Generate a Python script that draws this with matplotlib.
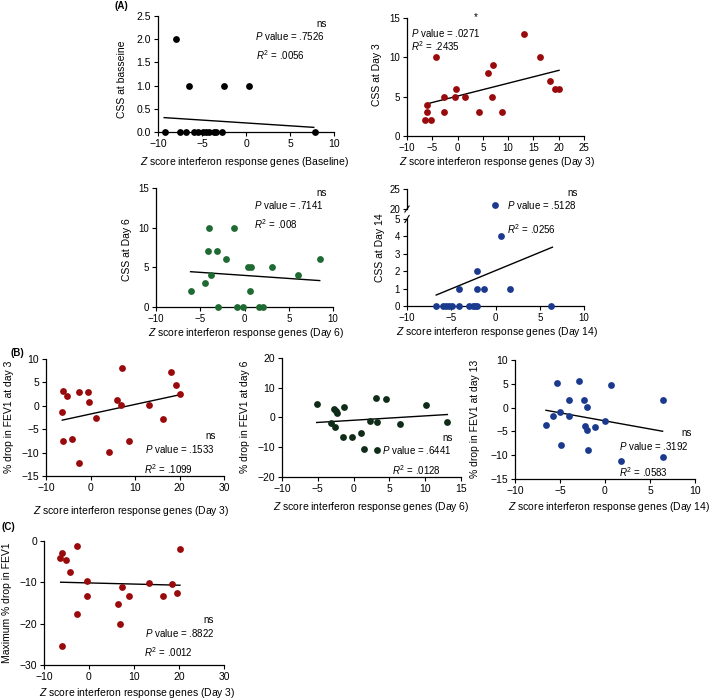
import matplotlib.pyplot as plt

plt.rcParams['font.family'] = 'Liberation Sans'
plt.rcParams['mathtext.fontset'] = 'custom'
plt.rcParams['mathtext.rm'] = 'Liberation Sans'
plt.rcParams['mathtext.it'] = 'Liberation Sans:italic'
plt.rcParams['font.size'] = 7
plt.rcParams['axes.linewidth'] = 0.9

W, H = 709, 700

black = '#000000'
red = '#990a0c'
green = '#1e6a32'
dkgreen = '#0f2c18'
blue = '#1b3a8e'

# (A) CSS vs Z score
a1_x = [-7.92, -6.5, -2.45, 0.38, -9.25, -7.47, -6.87, -5.9, -5.5, -4.83, -4.5, -4.26, -3.6, -3.4, -2.7, 7.85]
a1_y = [2, 1, 1, 1, 0, 0, 0, 0, 0, 0, 0, 0, 0, 0, 0, 0]
a1_fit_x = [-9.3, 7.7]
a1_fit_y = [0.31, 0.10]

a2_x = [-6.5, -5.2, -6.04, -6.04, -4.2, -2.6, -2.6, -0.57, -0.24, 1.4, 4.3, 6.0, 6.9, 7.07, 8.8, 13.1, 16.3, 18.3, 19.3, 20.06]
a2_y = [2, 2, 3, 4, 10, 5, 3, 5, 6, 5, 3, 8, 5, 9, 3, 13, 10, 7, 6, 6]
a2_fit_x = [-6.04, 20.06]
a2_fit_y = [4.09, 8.35]

a3_x = [-6.09, -4.5, -4.06, -4.14, -3.16, -3.8, -2.14, -3.0, -1.2, -0.9, -0.15, 0.41, 0.71, 0.6, 1.65, 2.1, 3.16, 6.05, 8.5]
a3_y = [2, 3, 10, 7, 7, 4, 6, 0, 10, 0, 0, 5, 5, 2, 0, 0, 5, 4, 6]
a3_fit_x = [-6.09, 8.5]
a3_fit_y = [4.45, 3.33]

a4_x = [-0.1, 0.58, -2.04, -4.1, -2.04, -1.26, 1.63, -6.7, -5.98, -5.57, -5.27, -4.97, -4.1, -3.02, -2.5, -2.27, -2.04, 6.32]
a4_y = [21, 4, 2, 1, 1, 1, 1, 0, 0, 0, 0, 0, 0, 0, 0, 0, 0, 0]
a4_fit_x = [-6.7, 6.43]
a4_fit_y = [0.63, 3.38]

# (B) % drop in FEV1 vs Z score
b1_x = [-6.26, -5.2, -2.6, -0.5, 7.1, 18.05, 19.2, -6.49, -6.12, -4.25, -2.6, -0.37, 1.34, 4.25, 5.97, 6.87, 8.73, 13.06, 16.2, 20.0]
b1_y = [3.1, 2.07, 2.86, 3.0, 8.1, 7.2, 4.4, -1.35, -7.54, -7.18, -12.2, 0.71, -2.7, -9.96, 1.28, 0.21, -7.47, 0.21, -2.9, 2.49]
b1_fit_x = [-6.34, 20.0]
b1_fit_y = [-3.06, 2.35]

b2_x = [-5.16, -2.7, -2.47, -2.28, -1.3, -3.16, -2.56, -1.49, -0.19, 1.02, 1.4, 2.23, 3.07, 3.26, 3.26, 4.56, 6.47, 10.05, 13.1]
b2_y = [4.47, 3.0, 2.35, 1.45, 3.58, -2.0, -3.24, -6.7, -6.7, -5.25, -10.5, -1.34, 6.48, -1.56, -10.8, 6.26, -2.35, 4.25, -1.56]
b2_fit_x = [-5.16, 13.1]
b2_fit_y = [-1.68, 1.0]

b3_x = [-6.56, -5.81, -5.04, -4.89, -4.0, -3.96, -2.33, -2.04, -2.22, -1.96, -1.89, -1.15, 0.0, 1.74, 6.4, 6.4, -5.37, -2.86, 0.63]
b3_y = [-3.57, -1.68, -0.91, -7.76, 1.61, -1.82, 1.68, 0.14, -3.92, -4.62, -8.88, -3.99, -2.87, -11.3, 1.6, -10.3, 5.16, 5.51, 4.7]
b3_fit_x = [-6.56, 6.4]
b3_fit_y = [-0.56, -4.97]

# (C) maximum % drop in FEV1
c_x = [-6.47, -6.1, -5.2, -4.24, -2.68, -0.51, -0.36, 7.23, 8.86, 13.3, 16.4, 18.4, 19.5, 20.2, 6.47, -2.6, 6.92, -6.03]
c_y = [-4.0, -2.95, -4.55, -7.46, -1.33, -9.56, -13.4, -11.2, -13.4, -10.2, -13.4, -10.3, -12.6, -1.9, -15.2, -17.6, -20.0, -25.3]
c_fit_x = [-6.3, 20.2]
c_fit_y = [-9.97, -10.7]

fig = plt.figure(figsize=(W / 100, H / 100), dpi=100)


def box(l, t, r, b):
    return [l / W, 1 - b / H, (r - l) / W, (b - t) / H]


def ftext(x, y, s, **kw):
    kw.setdefault('va', 'center')
    fig.text(x / W, 1 - y / H, s, **kw)


def panel(rect, x, y, fx, fy, color, xlim, xticks, ylim, yticks, ls=7):
    ax = fig.add_axes(box(*rect))
    ax.scatter(x, y, s=24, color=color, linewidths=0, clip_on=False, zorder=3)
    ax.plot(fx, fy, color='black', lw=1)
    ax.set_xlim(xlim)
    ax.set_ylim(ylim)
    ax.set_xticks(xticks)
    ax.set_yticks(yticks)
    ax.spines[['top', 'right']].set_visible(False)
    ax.tick_params(direction='out', length=3, width=0.8, labelsize=ls, pad=2)
    return ax


ax = panel((158, 16, 334, 132), a1_x, a1_y, a1_fit_x, a1_fit_y, black,
           (-10, 10), [-10, -5, 0, 5, 10], (0, 2.5), [0, 0.5, 1, 1.5, 2, 2.5], ls=7.5)
ax.yaxis.set_major_formatter('{x:.1f}')

panel((407, 18, 584, 136), a2_x, a2_y, a2_fit_x, a2_fit_y, red,
      (-10, 25), [-10, -5, 0, 5, 10, 15, 20, 25], (0, 15), [0, 5, 10, 15])

panel((156, 188, 333, 307), a3_x, a3_y, a3_fit_x, a3_fit_y, green,
      (-10, 10), [-10, -5, 0, 5, 10], (0, 15), [0, 5, 10, 15])

# broken y axis for day 14
ax = panel((407, 219, 584, 306), a4_x, a4_y, a4_fit_x, a4_fit_y, blue,
           (-10, 10), [-10, -5, 0, 5, 10], (0, 5), [0, 1, 2, 3, 4, 5])
axt = fig.add_axes(box(407, 189, 584, 209))
axt.scatter(a4_x, a4_y, s=24, color=blue, linewidths=0, zorder=3)
axt.set_xlim(-10, 10)
axt.set_ylim(20, 25)
axt.set_yticks([20, 25])
axt.set_xticks([])
axt.spines[['top', 'right', 'bottom']].set_visible(False)
axt.tick_params(direction='out', length=3, width=0.8, labelsize=7, pad=2)
# small break marks on the y axis
for a, yy in ((axt, 0.0), (ax, 1.0)):
    a.plot([-0.012, 0.012], [yy - 0.04, yy + 0.04] if a is ax else [yy - 0.15, yy + 0.15],
           transform=a.transAxes, color='black', lw=0.8, clip_on=False)

panel((46, 359, 224, 476), b1_x, b1_y, b1_fit_x, b1_fit_y, red,
      (-10, 30), [-10, 0, 10, 20, 30], (-15, 10), [-15, -10, -5, 0, 5, 10], ls=7.5)
panel((282, 358, 461, 477), b2_x, b2_y, b2_fit_x, b2_fit_y, dkgreen,
      (-10, 15), [-10, -5, 0, 5, 10, 15], (-20, 20), [-20, -10, 0, 10, 20], ls=7.5)
panel((515, 360, 695, 479), b3_x, b3_y, b3_fit_x, b3_fit_y, blue,
      (-10, 10), [-10, -5, 0, 5, 10], (-15, 10), [-15, -10, -5, 0, 5, 10], ls=7.5)
panel((44, 541, 224, 665), c_x, c_y, c_fit_x, c_fit_y, red,
      (-10, 30), [-10, 0, 10, 20, 30], (-30, 0), [-30, -20, -10, 0], ls=7.5)

# statistics text
stats = [
    ((322, 24), 'ns', (255, 36), '.7526', (256, 55), '.0056'),
    ((476, 17), '*', (411, 33), '.0271', (411, 46), '.2435'),
    ((322, 193), 'ns', (254, 205), '.7141', (254, 224), '.008'),
    ((573, 193), 'ns', (507, 205), '.5128', (507, 229), '.0256'),
    ((211, 436), 'ns', (145, 449), '.1533', (144, 469), '.1099'),
    ((448, 438), 'ns', (382, 450), '.6441', (392, 470), '.0128'),
    ((687, 433), 'ns', (619, 446), '.3192', (619, 472), '.0583'),
    ((209, 620), 'ns', (145, 633), '.8822', (144, 652), '.0012'),
]
for (nx, ny), sig, (px, py), pval, (rx, ry), r2 in stats:
    ftext(nx, ny, sig, ha='center', fontsize=7)
    ftext(px, py, '$P$ value = ' + pval, ha='left', fontsize=7)
    ftext(rx, ry, '$R^{\\mathrm{2}}$ = ' + r2, ha='left', fontsize=7)

# axis labels
xlabels = [
    ((245, 162), 'Baseline'), ((497, 162), 'Day 3'), ((246, 333), 'Day 6'),
    ((497, 332), 'Day 14'), ((131, 511), 'Day 3'), ((371, 507), 'Day 6'),
    ((609, 507), 'Day 14'), ((137, 693), 'Day 3'),
]
for (x, y), day in xlabels:
    ftext(x, y, '$Z$ score interferon response genes (' + day + ')', ha='center', fontsize=7.5)

ylabels = [
    ((122, 79), 'CSS at basseine'), ((377, 75), 'CSS at Day 3'),
    ((127, 250), 'CSS at Day 6'), ((380, 248), 'CSS at Day 14'),
    ((9, 417), '% drop in FEV1 at day 3'), ((245, 417), '% drop in FEV1 at day 6'),
    ((475, 419), '% drop in FEV1 at day 13'), ((7, 603), 'Maximum % drop in FEV1'),
]
for (x, y), s in ylabels:
    ftext(x, y, s, ha='center', rotation=90, fontsize=7.5)

ftext(121, 6, '(A)', ha='center', fontsize=7, fontweight='bold')
ftext(17, 353, '(B)', ha='center', fontsize=7, fontweight='bold')
ftext(8, 527, '(C)', ha='center', fontsize=7, fontweight='bold')

fig.savefig('out.png', dpi=100)
